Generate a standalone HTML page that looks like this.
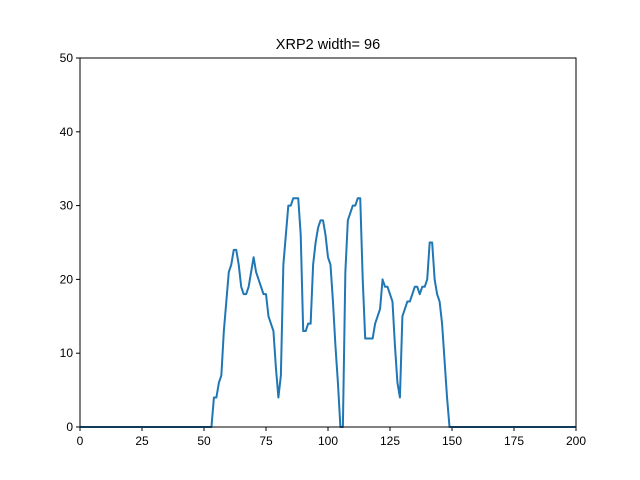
<!DOCTYPE html>
<html><head><meta charset="utf-8"><style>
body{margin:0;background:#fff;font-family:"Liberation Sans","DejaVu Sans",sans-serif}
</style></head><body>
<svg id="chart" width="640" height="480" xmlns="http://www.w3.org/2000/svg" style="display:block">
<rect width="640" height="480" fill="#fff"/>
<text x="328" y="49" font-size="14.5" text-anchor="middle" fill="#000">XRP2 width= 96</text>
<g id="ticks"></g>
<path id="line" fill="none" stroke="#1f77b4" stroke-width="2" stroke-linejoin="round"/>
<rect x="80" y="58" width="496" height="369" fill="none" stroke="#000" stroke-width="1"/>
</svg>
<script>
const xStart = 0, xEnd = 200;
const nonZeroStart = 53;
const yValues = [0,4,4,6,7,13,17,21,22,24,24,22,19,18,18,19,21,23,21,20,19,18,18,15,14,13,8,4,7,22,26,30,30,31,31,31,26,13,13,14,14,22,25,27,28,28,26,23,22,17,11,6,0,0,21,28,29,30,30,31,31,20,12,12,12,12,14,15,16,20,19,19,18,17,11,6,4,15,16,17,17,18,19,19,18,19,19,20,25,25,20,18,17,14,9,4,0];
const xTicks = [0,25,50,75,100,125,150,175,200];
const yTicks = [0,10,20,30,40,50];
const L=80,R=576,T=58,B=427;
const sx=v=>L+(v-xStart)/(xEnd-xStart)*(R-L);
const sy=v=>B-v/50*(B-T);
const xs=[],ys=[];
for(let x=xStart;x<=xEnd;x++){xs.push(x);const i=x-nonZeroStart;ys.push(i>=0&&i<yValues.length?yValues[i]:0);}
document.getElementById('line').setAttribute('d',xs.map((x,i)=>(i?'L':'M')+sx(x).toFixed(2)+','+sy(ys[i]).toFixed(2)).join(''));
const g=document.getElementById('ticks');const NS='http://www.w3.org/2000/svg';
xTicks.forEach(t=>{const l=document.createElementNS(NS,'line');


l.setAttribute('x1',sx(t));l.setAttribute('x2',sx(t));l.setAttribute('y1',B);l.setAttribute('y2',B+4);l.setAttribute('stroke','#000');g.appendChild(l);
const tx=document.createElementNS(NS,'text');


tx.setAttribute('x',sx(t));tx.setAttribute('y',B+18);tx.setAttribute('font-size','12');tx.setAttribute('text-anchor','middle');tx.textContent=t;g.appendChild(tx);});
yTicks.forEach(t=>{const l=document.createElementNS(NS,'line');


l.setAttribute('x1',L-4);l.setAttribute('x2',L);l.setAttribute('y1',sy(t));l.setAttribute('y2',sy(t));l.setAttribute('stroke','#000');g.appendChild(l);
const tx=document.createElementNS(NS,'text');


tx.setAttribute('x',L-7);tx.setAttribute('y',sy(t)+4);tx.setAttribute('font-size','12');tx.setAttribute('text-anchor','end');tx.textContent=t;g.appendChild(tx);});
</script>
</body></html>
